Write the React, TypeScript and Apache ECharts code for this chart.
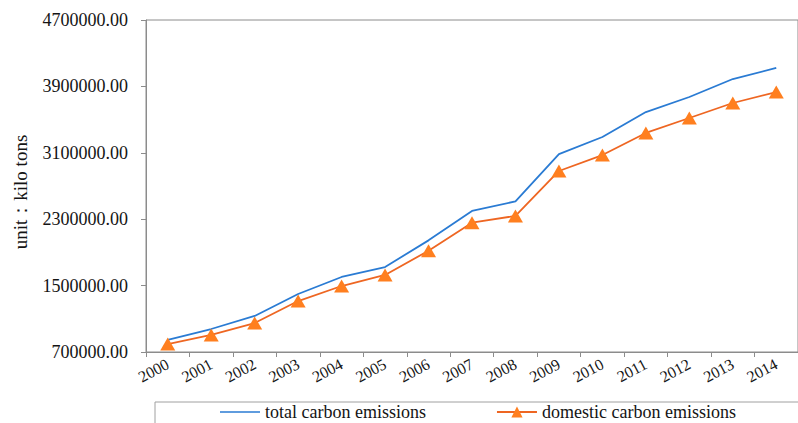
import React, { useEffect, useRef } from "react";
import * as echarts from "echarts";

const years = ["2000","2001","2002","2003","2004","2005","2006","2007","2008","2009","2010","2011","2012","2013","2014"];
const totalEmissions = [845000, 977000, 1134000, 1399000, 1604000, 1724000, 2045000, 2399000, 2515000, 3085000, 3290000, 3591000, 3772000, 3989000, 4122000];
const domesticEmissions = [796000, 905000, 1049000, 1314000, 1495000, 1628000, 1920000, 2258000, 2340000, 2881000, 3073000, 3339000, 3519000, 3700000, 3832000];
const seriesNames = ["total carbon emissions", "domestic carbon emissions"];
const yAxisName = "unit：kilo tons";

const FONT = "'Liberation Serif', 'Times New Roman', serif";
const AXIS = "#8c8c8c";
const TEXT = "#141414";
const BLUE = "#2a7bd3";

export default function App() {
  const ref = useRef<HTMLDivElement>(null);
  useEffect(() => {
    if (!ref.current) return;
    const chart = echarts.init(ref.current, null, { renderer: "svg" });
    chart.setOption({
      animation: false,
      backgroundColor: "#ffffff",
      textStyle: { fontFamily: FONT, color: TEXT },
      grid: {
        left: 146,
        top: 20,
        width: 663,
        height: 332,
        containLabel: false,
        show: true,
        borderColor: AXIS,
        borderWidth: 1,
      },
      legend: {
        left: 220,
        top: 403,
        padding: 0,
        itemWidth: 40,
        itemHeight: 14,
        itemGap: 70,
        textStyle: { fontFamily: FONT, fontSize: 18, color: TEXT },
        data: [
          { name: seriesNames[0], icon: "path://M0,0 L40,0 L40,1.6 L0,1.6 Z", itemStyle: { color: BLUE } },
          { name: seriesNames[1] },
        ],
      },
      graphic: [
        {
          type: "rect",
          shape: { x: 155, y: 402, width: 700, height: 60 },
          style: { fill: "none", stroke: "#a0a0a0", lineWidth: 1 },
          silent: true,
        },
        {
          type: "text",
          x: 20,
          y: 192,
          rotation: Math.PI / 2,
          style: {
            text: yAxisName,
            fontFamily: FONT,
            fontSize: 19,
            fill: TEXT,
            align: "center",
            verticalAlign: "middle",
          },
          silent: true,
        },
      ],
      xAxis: {
        type: "category",
        data: years,
        boundaryGap: true,
        axisLine: { lineStyle: { color: AXIS } },
        axisTick: { show: true, length: 5, lineStyle: { color: AXIS } },
        axisLabel: {
          rotate: 28,
          interval: 0,
          margin: 11,
          fontFamily: FONT,
          fontSize: 16,
          color: TEXT,
        },
        splitLine: { show: false },
      },
      yAxis: {
        type: "value",
        min: 700000,
        max: 4700000,
        interval: 800000,
        axisLine: { show: true, lineStyle: { color: AXIS } },
        axisTick: { show: true, length: 5, lineStyle: { color: AXIS } },
        axisLabel: {
          margin: 18,
          fontFamily: FONT,
          fontSize: 18,
          color: TEXT,
          formatter: (v: number) => v.toFixed(2),
        },
        splitLine: { show: false },
      },
      series: [
        {
          name: seriesNames[0],
          type: "line",
          data: totalEmissions,
          symbol: "none",
          showSymbol: false,
          lineStyle: { color: BLUE, width: 1.8 },
          itemStyle: { color: BLUE },
        },
        {
          name: seriesNames[1],
          type: "line",
          data: domesticEmissions,
          symbol: "triangle",
          symbolSize: [15, 13],
          showSymbol: true,
          lineStyle: { color: "#ee6622", width: 1.8 },
          itemStyle: { color: "#ff7f1f" },
        },
      ],
    });
    return () => chart.dispose();
  }, []);
  return (
    <div
      ref={ref}
      style={{ position: "absolute", left: 0, top: 0, width: 798, height: 423 }}
    />
  );
}
